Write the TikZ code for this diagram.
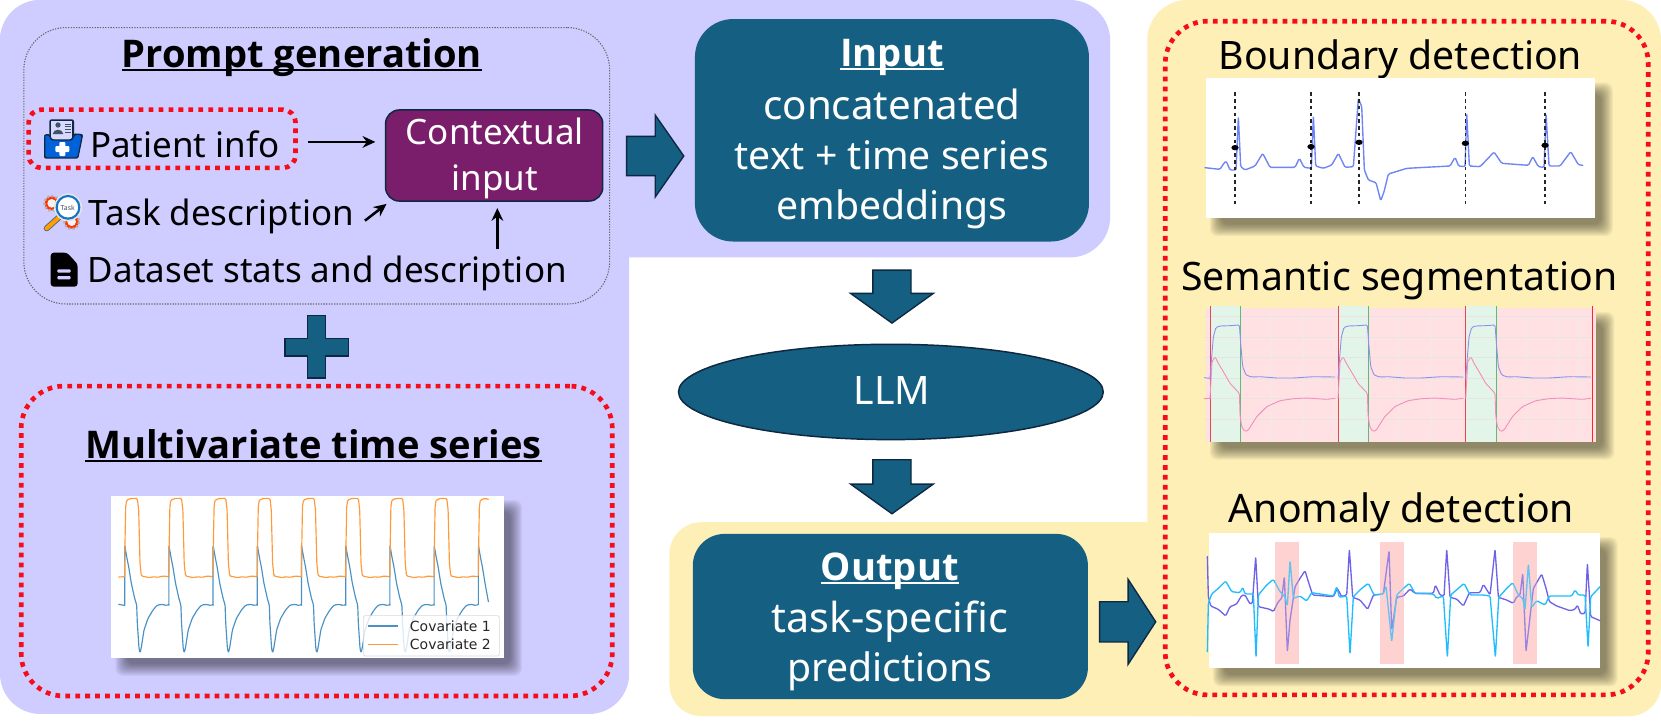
\documentclass[tikz,border=0pt]{standalone}
\usepackage{fontspec}
\setmainfont{Noto Sans}
\newfontfamily\legendfont{DejaVu Sans}
\newfontfamily\headfam{Open Sans}
\usetikzlibrary{shapes.geometric,arrows.meta,calc}
\definecolor{lav}{HTML}{CFCCFF}
\definecolor{yel}{HTML}{FDEFB6}
\definecolor{teal}{HTML}{156082}
\definecolor{navy}{HTML}{0E2841}
\definecolor{plum}{HTML}{7A1E6C}
\definecolor{reddot}{HTML}{F70D1A}
\definecolor{c1}{HTML}{4A92C6}
\definecolor{c2}{HTML}{FF9A3C}
\definecolor{ecg}{HTML}{6F85F5}
\definecolor{segp}{HTML}{FFE0E3}
\definecolor{segg}{HTML}{E3F4E8}
\definecolor{segb}{HTML}{8F8FF0}
\definecolor{segm}{HTML}{F58DBB}
\definecolor{segr}{HTML}{E8474F}
\definecolor{sego}{HTML}{5DBB7A}
\definecolor{anp}{HTML}{6E63E8}
\definecolor{anc}{HTML}{1FBDFF}
\definecolor{anb}{HTML}{FFD2D2}
\newcommand{\ulx}[1]{\setbox0\hbox{#1}\rlap{\rule[-3.4pt]{\wd0}{2pt}}\box0}
\newcommand{\bodyf}{\fontsize{33}{40}\selectfont}
\newcommand{\bigf}{\fontsize{37}{44}\selectfont}
\newcommand{\headf}{\headfam\fontsize{36}{42}\selectfont\bfseries}
\newcommand{\shadowbox}[4]{%
  \foreach \i in {0,...,11}{
    \fill[black,opacity=.045,rounded corners=7pt]
      ({#1+15-\i},{#2+15-\i}) rectangle ({#3+6+\i},{#4+6+\i});}}
% block arrows: tip x, centre y, head half, shaft half, head length, shaft length
\newcommand{\rightblock}[6]{%
  \draw[blkp] (#1,#2) -- ({#1-#5},{#2-#3}) -- ({#1-#5},{#2-#4}) -- ({#1-#5-#6},{#2-#4}) -- ({#1-#5-#6},{#2+#4}) -- ({#1-#5},{#2+#4}) -- ({#1-#5},{#2+#3}) -- cycle;}
\newcommand{\downblock}[6]{%
  \draw[blkp] (#1,#2) -- ({#1-#3},{#2-#5}) -- ({#1-#4},{#2-#5}) -- ({#1-#4},{#2-#5-#6}) -- ({#1+#4},{#2-#5-#6}) -- ({#1+#4},{#2-#5}) -- ({#1+#3},{#2-#5}) -- cycle;}
\tikzset{
  zf/.style 2 args={shift={(#1*0.94401,#2*0.94401)},x=0.3147pt,y=-0.3147pt},
  txt/.style={anchor=base,inner sep=0pt,outer sep=0pt,font=\bodyf},
  bigtxt/.style={anchor=base,inner sep=0pt,outer sep=0pt,font=\bigf},
  wtxt/.style={txt,text=white},
  wbig/.style={bigtxt,text=white},
  btxt/.style={anchor=base,inner sep=0pt,outer sep=0pt,font=\headf},
  redbox/.style={draw=reddot,line width=4.4pt,dash pattern=on 4.5pt off 4.9pt,rectangle,inner sep=0pt},
  dotbox/.style={draw=black!60,line width=1pt,dash pattern=on 1.2pt off 1.3pt,rectangle,rounded corners=40pt,inner sep=0pt},
  tealbox/.style={fill=teal,rectangle,inner sep=0pt},
  blkp/.style={draw=navy,line width=1.3pt,fill=teal,line join=miter},
  arr/.style={-{Stealth[length=12pt,width=11pt]},line width=2.4pt,black},
  tr/.style={line join=round,line cap=round,rounded corners=1.2pt}
}
\begin{document}
\begin{tikzpicture}[x=1pt,y=-1pt]
\useasboundingbox (0,0) rectangle (1568,681.6);
\fill[white] (0,0) rectangle (1568,681.6);
% backgrounds
\fill[lav,rounded corners=38pt] (0,0) rectangle (1048,243);
\fill[lav,rounded corners=38pt] (0,0) rectangle (594,674);
\fill[yel,rounded corners=38pt] (1083,0) rectangle (1568,676);
\fill[yel,rounded corners=30pt] (632,493) rectangle (1568,676);
% prompt panel
\node[dotbox,minimum width=553,minimum height=261] (prompt) at (299,156.5) {};
\node[btxt] (ptitle) at (285,64) {\ulx{Prompt generation}};
\node[redbox,rounded corners=12pt,minimum width=252,minimum height=55] (patbox) at (153,131) {};
\node[txt,anchor=base west] (pat) at (85,149) {Patient info};
\node[txt,anchor=base west] (task) at (84,213) {Task description};
\node[txt,anchor=base west] (data) at (83,266.5) {Dataset stats and description};
\node[fill=plum,draw=navy,line width=1.4pt,rectangle,rounded corners=13pt,minimum width=205,minimum height=86,inner sep=0pt] (ctx) at (466.5,146.8) {};
\node[wtxt] (ctx1) at (467,136.5) {Contextual};
\node[wtxt] (ctx2) at (467,179.5) {input};
\coordinate (taskend) at (344.5,208.3);
\coordinate (dataend) at (469.5,235.5);
\draw[arr] ([xshift=10pt]patbox.east) ++(0,3) -- ([shift={(-9,-12.8)}]ctx.west);
\draw[arr] (taskend) -- ([shift={(1.6,2)}]ctx.south west);
\draw[arr] (dataend) -- ([shift={(3,5.9)}]ctx.south);
% patient icon
\begin{scope}[zf={30}{110}]
\fill[fill=navy,rounded corners=2pt] (58,28) rectangle (132,105);
\fill[white!85!blue] (63,33) rectangle (127,100);
\fill[navy!80] (84,45) circle (8);
\fill[navy!80] (68,72) .. controls (70,55) and (98,55) .. (100,72) -- cycle;
\foreach \yy in {42,50,58,66}{\draw[navy!80,line width=.5pt] (104,\yy) -- (122,\yy);}
\fill[navy,rounded corners=2pt] (42,80) -- (42,146) -- (145,146) -- (160,72) -- (130,70) -- (125,88) -- (65,88) -- (60,72) -- (44,72) -- cycle;
\fill[blue!55!cyan!85!black,rounded corners=2pt] (46,82) -- (46,142) -- (142,142) -- (155,76) -- (134,75) -- (128,92) -- (62,92) -- (57,76) -- (46,76) -- cycle;
\fill[white,rounded corners=1pt] (88,96) rectangle (106,138);
\fill[white,rounded corners=1pt] (76,108) rectangle (118,126);
% task icon
\fill[red!60!orange] (65,280) circle (21);
\draw[gray!60,line width=2.2pt,dash pattern=on 2pt off 2pt] (65,280) circle (22);
\fill[white!90!gray] (65,280) circle (13);
\fill[red!60!orange] (125,335) circle (21);
\draw[gray!60,line width=2.2pt,dash pattern=on 2pt off 2pt] (125,335) circle (22);
\fill[white!90!gray] (125,335) circle (13);
\draw[navy!70,line width=5.6pt,line cap=round] (87,322) -- (50,355);
\draw[orange!75!yellow,line width=3.8pt,line cap=round] (87,322) -- (50,355);
\fill[gray!20] (114,292) circle (42);
\filldraw[fill=white,draw=cyan!55!blue,line width=2pt] (114,292) circle (34);
\node[inner sep=0pt,font=\fontsize{6.5}{7}\selectfont\bfseries,text=navy!80] (taskmark) at (113,293) {Task};
% file icon
\fill[black,rounded corners=3pt] (62,428) -- (112,428) -- (143,462) -- (143,530) -- (62,530) -- cycle;
\fill[lav] (110,426) -- (146,426) -- (146,464) -- cycle;
\fill[black,rounded corners=1pt] (108,430) -- (108,464) -- (142,464) -- cycle;
\fill[lav,rounded corners=1pt] (82,478) rectangle (122,488);
\fill[lav,rounded corners=1pt] (82,498) rectangle (122,508);
\end{scope}
% plus
\draw[blkp] (290.5,298) -- (307.5,298) -- (307.5,319.5) -- (329,319.5) -- (329,336) -- (307.5,336) -- (307.5,357) -- (290.5,357) -- (290.5,336) -- (269,336) -- (269,319.5) -- (290.5,319.5) -- cycle;
% multivariate panel
\node[redbox,rounded corners=40pt,minimum width=558,minimum height=292.5] (mvbox) at (299,510.75) {};
\node[btxt] (mvtitle) at (296,433) {\ulx{Multivariate time series}};
\shadowbox{104.8}{468}{475.8}{621}
\node[fill=white,rectangle,minimum width=371,minimum height=153,inner sep=0pt] (mvplot) at (290.3,544.5) {};
\begin{scope}[zf={80}{450}]
\draw[c1,line width=1.1pt,tr] (116,463) -- (133,466);
\draw[c2,line width=1.1pt,tr] (116,381) -- (134,380);
\foreach \k in {0,...,7}{
\begin{scope}[shift={({134+132.6*\k},0)}]
\draw[c1,line width=1.1pt,tr] (0,466) -- (0,285) -- (6,320) -- (12,350) -- (20,400) -- (30,445) -- (36,465) -- (38,520) -- (43,595) -- (46,609) -- (50,592) -- (58,540) -- (70,505) -- (85,480) -- (98,465) -- (115,463) -- (125,467) -- (132.6,463);
\draw[c2,line width=1.1pt,tr] (0,380) -- (1,280) -- (3,170) -- (6,150) -- (20,145) -- (38,145) -- (42,180) -- (46,340) -- (50,378) -- (60,380) -- (75,383) -- (85,380) -- (100,382) -- (115,378) -- (132.6,380);
\end{scope}}
\begin{scope}[shift={(1195,0)}]
\draw[c1,line width=1.1pt,tr] (0,463) -- (0,285) -- (6,320) -- (12,350) -- (20,400) -- (30,455);
\draw[c2,line width=1.1pt,tr] (0,375) -- (1,280) -- (3,170) -- (6,150) -- (20,145) -- (30,148);
\end{scope}
\end{scope}
\begin{scope}[zf={100}{540}]
\filldraw[fill=white,fill opacity=.8,draw=black!15,line width=.6pt,rounded corners=1.5pt] (790,227) rectangle (1198,348);
\draw[c1,line width=1.1pt] (805,258) -- (895,258);
\draw[c2,line width=1.1pt] (805,313) -- (895,313);
\end{scope}
\node[anchor=west,inner sep=0pt,font=\legendfont\fontsize{13.2}{15}\selectfont,text=black!85] (cov1) at (386.8,590.8) {Covariate 1};
\node[anchor=west,inner sep=0pt,font=\legendfont\fontsize{13.2}{15}\selectfont,text=black!85] (cov2) at (386.8,608.3) {Covariate 2};
% centre
\rightblock{645.5}{147.3}{38.7}{18.5}{27}{27}
\node[tealbox,rounded corners=36pt,minimum width=372,minimum height=210] (input) at (842,123) {};
\node[btxt,text=white] (inT) at (842,63) {\ulx{Input}};
\node[wbig,font=\fontsize{38}{44}\selectfont] (in1) at (842,113) {concatenated};
\node[wbig] (in2) at (842,160) {text + time series};
\node[wbig] (in3) at (842,207) {embeddings};
\downblock{842}{305}{39}{18}{28}{22}
\node[ellipse,fill=teal,draw=navy,line width=1.4pt,inner sep=0pt,minimum width=401,minimum height=90] (llm) at (841,370) {};
\node[wbig] (llmT) at (842,382) {LLM};
\downblock{842}{485}{39}{18}{28}{23}
\node[tealbox,rounded corners=30pt,minimum width=373,minimum height=156] (output) at (840.5,582) {};
\node[btxt,text=white] (outT) at (840,548) {\ulx{Output}};
\node[wbig,font=\fontsize{39}{44}\selectfont] (out1) at (840,597) {task-specific};
\node[wbig] (out2) at (840,643) {predictions};
\rightblock{1091}{587}{40}{19}{26}{27}
% right panel
\node[redbox,rounded corners=40pt,minimum width=456,minimum height=636] (rbox) at (1328,338) {};
\node[bigtxt] (t1) at (1322,66) {Boundary detection};
\node[bigtxt] (t2) at (1321,274) {Semantic segmentation};
\node[bigtxt] (t3) at (1323,493) {Anomaly detection};
% boundary plot
\shadowbox{1138}{74}{1505.5}{206}
\node[fill=white,rectangle,minimum width=367.5,minimum height=132,inner sep=0pt] (bplot) at (1321.75,140) {};
\begin{scope}[zf={1120}{60}]
\draw[ecg,line width=1.3pt,tr] (255,323) -- (300,328) -- (310,312) -- (318,303) -- (325,318) -- (330,330) -- (348,330) -- (355,170) -- (362,320) -- (375,330) -- (405,318) -- (428,280) -- (450,322) -- (525,322) -- (538,295) -- (552,322) -- (574,325) -- (580,168) -- (587,318) -- (610,325) -- (635,315) -- (655,280) -- (675,322) -- (700,320) -- (715,115) -- (725,140) -- (733,330) -- (745,360) -- (768,368) -- (782,422) -- (792,395) -- (805,342) -- (860,325) -- (990,318) -- (1005,292) -- (1016,318) -- (1035,320) -- (1040,160) -- (1048,318) -- (1080,320) -- (1122,276) -- (1145,310) -- (1225,316) -- (1238,290) -- (1255,320) -- (1272,322) -- (1278,162) -- (1287,318) -- (1320,318) -- (1352,275) -- (1375,314) -- (1388,316);
\foreach \xx/\yy in {345/263,573/260,717/247,1036/250,1275/256}{
\draw[black!85,line width=1.3pt,dash pattern=on 3.2pt off 3.2pt] (\xx,97) -- (\xx,440);
\fill[black] (\xx,\yy) ellipse (11 and 8);}
\end{scope}
% semantic plot
\shadowbox{1138}{290.5}{1507}{417}
\node[fill=segp,rectangle,minimum width=369,minimum height=126.5,inner sep=0pt] (splot) at (1322.5,353.75) {};
\begin{scope}[zf={1120}{280}]
\foreach \b in {270,654,1037}{\fill[segg] (\b,78) rectangle (\b+92,485);}
\foreach \yy in {110,172,233,295,355,418}{\draw[black!10,line width=.6pt] (253,\yy) -- (1416,\yy);}
\foreach \xx in {272,360,455,550,655,740,835,935,1040,1130,1220,1315,1378}{\draw[black!8,line width=.6pt] (\xx,98) -- (\xx,485);}
\foreach \b in {270,654,1037}{
\draw[segr,line width=.9pt] (\b,78) -- (\b,485);
\draw[sego,line width=.9pt] (\b+92,78) -- (\b+92,485);
\begin{scope}[shift={(\b,0)}]
\draw[segb,line width=.85pt,tr] (0,295) -- (5,230) -- (10,170) -- (18,142) -- (30,138) -- (60,137) -- (88,135) -- (92,190) -- (98,260) -- (108,285) -- (125,291) -- (150,290) -- (200,294) -- (250,294) -- (310,290) -- (375,291);
\draw[segm,line width=.85pt,tr] (0,355) -- (6,245) -- (15,230) -- (25,250) -- (40,275) -- (60,310) -- (88,340) -- (90,405) -- (95,440) -- (105,455) -- (115,450) -- (140,410) -- (170,380) -- (210,362) -- (250,356) -- (290,354) -- (350,358) -- (375,355);
\end{scope}}
\draw[segb,line width=.85pt,tr] (253,293) -- (270,295);
\draw[segm,line width=.85pt,tr] (253,356) -- (270,355);
\draw[red!85,line width=.9pt] (1418,78) -- (1418,485);
\end{scope}
% anomaly plot
\shadowbox{1141}{503}{1510}{631}
\node[fill=white,rectangle,minimum width=369,minimum height=128,inner sep=0pt] (aplot) at (1325.5,567) {};
\begin{scope}[zf={1190}{520}]
\foreach \xx in {256,569,970}{\fill[anb] (\xx,66) rectangle (\xx+72,433);}
\draw[anp,line width=1.25pt,tr] (52,110) -- (55,230) -- (62,258) -- (85,268) -- (107,288) -- (120,260) -- (140,252) -- (155,226) -- (165,225) -- (180,252) -- (187,250) -- (197,110) -- (205,260) -- (240,268) -- (250,275) -- (265,245) -- (275,235) -- (283,170) -- (292,395) -- (300,300) -- (315,200) -- (330,175) -- (345,152) -- (355,185) -- (368,225) -- (430,230) -- (442,205) -- (455,230) -- (470,225) -- (478,88) -- (488,232) -- (510,240) -- (533,268) -- (550,225) -- (580,222) -- (597,92) -- (605,330) -- (620,232) -- (640,228) -- (660,207) -- (675,220) -- (730,220) -- (736,195) -- (750,225) -- (762,228) -- (770,88) -- (780,232) -- (800,237) -- (820,258) -- (838,218) -- (870,218) -- (880,193) -- (900,225) -- (915,88) -- (925,232) -- (950,240) -- (970,250) -- (980,230) -- (990,225) -- (998,160) -- (1008,395) -- (1020,290) -- (1030,205) -- (1055,162) -- (1068,205) -- (1078,245) -- (1100,258) -- (1140,272) -- (1155,268) -- (1162,255) -- (1172,282) -- (1185,280) -- (1192,130) -- (1202,290) -- (1230,302);
\draw[anc,line width=1.25pt,tr] (52,395) -- (55,250) -- (65,222) -- (85,205) -- (107,183) -- (125,215) -- (150,218) -- (158,202) -- (165,222) -- (190,222) -- (198,412) -- (205,225) -- (230,195) -- (250,178) -- (270,215) -- (285,230) -- (292,258) -- (300,122) -- (310,235) -- (330,228) -- (350,243) -- (365,218) -- (430,228) -- (440,200) -- (448,232) -- (470,228) -- (480,402) -- (490,230) -- (515,205) -- (535,190) -- (552,225) -- (580,222) -- (588,198) -- (605,365) -- (620,225) -- (640,205) -- (658,190) -- (675,220) -- (730,222) -- (740,235) -- (760,228) -- (772,412) -- (782,225) -- (805,205) -- (822,190) -- (840,225) -- (880,225) -- (900,228) -- (916,412) -- (926,232) -- (950,205) -- (968,188) -- (985,225) -- (998,235) -- (1005,270) -- (1015,132) -- (1025,262) -- (1040,242) -- (1065,255) -- (1078,228) -- (1145,228) -- (1155,210) -- (1165,225) -- (1185,225) -- (1194,382) -- (1202,230) -- (1230,200);
\foreach \xx in {256,569,970}{\fill[anb,opacity=.3] (\xx,66) rectangle (\xx+72,433);}
\end{scope}
\end{tikzpicture}
\end{document}
